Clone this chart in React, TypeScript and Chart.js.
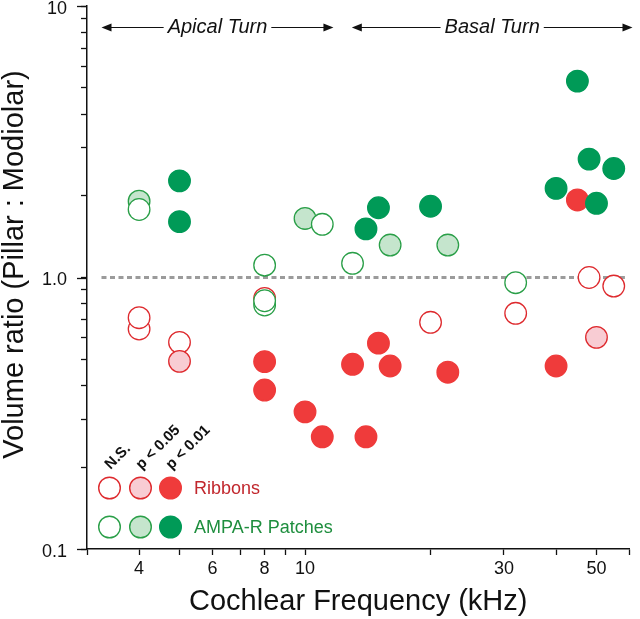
import React, { useEffect, useRef } from 'react';
import { Chart, registerables } from 'chart.js';

Chart.register(...registerables);

const FONT = "'Liberation Sans', Arial, Helvetica, sans-serif";

// ---- Data (Cochlear frequency kHz, volume ratio) ----
const ribbonsNsX = [4, 4, 5, 8, 20, 32, 48, 55];
const ribbonsNsY = [0.646, 0.711, 0.577, 0.838, 0.684, 0.738, 1.0, 0.93];
const ribbonsP05X = [5, 50];
const ribbonsP05Y = [0.491, 0.602];
const ribbonsP01X = [8, 8, 10, 11, 13, 14, 15, 16, 22, 40, 45];
const ribbonsP01Y = [0.49, 0.385, 0.32, 0.259, 0.479, 0.259, 0.573, 0.472, 0.448, 0.472, 1.93];

const ampaNsX = [4, 8, 8, 8, 11, 13, 32];
const ampaNsY = [1.78, 1.11, 0.792, 0.821, 1.57, 1.128, 0.957];
const ampaP05X = [4, 10, 16, 22];
const ampaP05Y = [1.91, 1.65, 1.317, 1.317];
const ampaP01X = [5, 5, 14, 15, 20, 40, 45, 48, 50, 55];
const ampaP01Y = [2.27, 1.606, 1.51, 1.807, 1.83, 2.13, 5.29, 2.73, 1.876, 2.52];

const refLineX = [3.25, 58.5];
const refLineY = [1, 1];

// ---- Axis ticks ----
const xTicks = [3, 4, 5, 6, 7, 8, 9, 10, 20, 30, 40, 50, 60];
const xTickLabelValues = [4, 6, 8, 10, 30, 50];
const xTickLabels = ['4', '6', '8', '10', '30', '50'];
const yTicks = [0.1, 0.2, 0.3, 0.4, 0.5, 0.6, 0.7, 0.8, 0.9, 1, 2, 3, 4, 5, 6, 7, 8, 9, 10];
const yTickLabelValues = [0.1, 1, 10];
const yTickLabels = ['0.1', '1.0', '10'];

const xTitle = 'Cochlear Frequency (kHz)';
const yTitle = 'Volume ratio (Pillar : Modiolar)';

// ---- Annotations ----
const turnLabels = ['Apical Turn', 'Basal Turn'];
const turnStart = [3.25, 12.95];
const turnEnd = [11.7, 61];
const turnArrowY = 8.4;

const sigLabels = ['N.S.', 'p < 0.05', 'p < 0.01'];
const groupLabels = ['Ribbons', 'AMPA-R Patches'];
const groupLabelColors = ['#C1272D', '#1E8E3E'];

// styles
const RED = '#EF3B3B';
const RED_EDGE = '#DE2A2E';
const PINK = '#F8CCD3';
const GREEN = '#009A57';
const LIGHT_GREEN = '#C5E5CD';
const GREEN_EDGE = '#2A9F48';

const legendStyles = [
  [
    { fill: '#FFFFFF', stroke: RED_EDGE },
    { fill: PINK, stroke: RED_EDGE },
    { fill: RED, stroke: RED },
  ],
  [
    { fill: '#FFFFFF', stroke: GREEN_EDGE },
    { fill: LIGHT_GREEN, stroke: GREEN_EDGE },
    { fill: GREEN, stroke: GREEN },
  ],
];

function pts(xs: number[], ys: number[]) {
  return xs.map((x, i) => ({ x, y: ys[i] }));
}

function labelFor(value: number, vals: number[], labels: string[]) {
  for (let i = 0; i < vals.length; i++) {
    if (Math.abs(value - vals[i]) / vals[i] < 1e-6) return labels[i];
  }
  return '';
}

const overlayPlugin = {
  id: 'overlay',
  afterDraw(chart: any) {
    const { ctx, chartArea, scales } = chart;
    const xs = scales.x;
    const ys = scales.y;
    ctx.save();

    // longer major ticks on y axis
    ctx.strokeStyle = '#111';
    ctx.lineWidth = 1.3;
    yTickLabelValues.forEach((v) => {
      const py = Math.round(ys.getPixelForValue(v)) + 0.5;
      ctx.beginPath();
      ctx.moveTo(chartArea.left - 10, py);
      ctx.lineTo(chartArea.left, py);
      ctx.stroke();
    });

    // y axis title
    ctx.save();
    ctx.font = `29px ${FONT}`;
    ctx.fillStyle = '#111';
    ctx.textAlign = 'center';
    ctx.textBaseline = 'middle';
    ctx.translate(15, (chartArea.top + chartArea.bottom) / 2 - 13);
    ctx.rotate(-Math.PI / 2);
    ctx.fillText(yTitle, 0, 0);
    ctx.restore();

    // Turn arrows
    const ay = Math.round(ys.getPixelForValue(turnArrowY)) + 0.5;
    ctx.font = `italic 20px ${FONT}`;
    ctx.textAlign = 'center';
    ctx.textBaseline = 'middle';
    ctx.fillStyle = '#111';
    ctx.strokeStyle = '#111';
    ctx.lineWidth = 1.2;
    turnLabels.forEach((label, i) => {
      const x0 = xs.getPixelForValue(turnStart[i]);
      const x1 = xs.getPixelForValue(turnEnd[i]);
      const mid = (x0 + x1) / 2;
      const w = ctx.measureText(label).width;
      ctx.fillText(label, mid, ay);
      const gap = 4;
      const head = 10;
      ctx.beginPath();
      ctx.moveTo(x0 + head - 1, ay);
      ctx.lineTo(mid - w / 2 - gap, ay);
      ctx.moveTo(mid + w / 2 + gap, ay);
      ctx.lineTo(x1 - head + 1, ay);
      ctx.stroke();
      ctx.beginPath();
      ctx.moveTo(x0, ay);
      ctx.lineTo(x0 + head, ay - 4);
      ctx.lineTo(x0 + head, ay + 4);
      ctx.closePath();
      ctx.fill();
      ctx.beginPath();
      ctx.moveTo(x1, ay);
      ctx.lineTo(x1 - head, ay - 4);
      ctx.lineTo(x1 - head, ay + 4);
      ctx.closePath();
      ctx.fill();
    });

    // Legend
    const colX = [22.5, 53.5, 83.5].map((d) => chartArea.left + d);
    const rowY = [61, 22].map((d) => chartArea.bottom - d);
    legendStyles.forEach((row, r) => {
      row.forEach((st, c) => {
        ctx.beginPath();
        ctx.arc(colX[c], rowY[r], 10.8, 0, Math.PI * 2);
        ctx.fillStyle = st.fill;
        ctx.fill();
        ctx.lineWidth = 1.4;
        ctx.strokeStyle = st.stroke;
        ctx.stroke();
      });
      ctx.font = `18px ${FONT}`;
      ctx.textAlign = 'left';
      ctx.textBaseline = 'middle';
      ctx.fillStyle = groupLabelColors[r];
      ctx.fillText(groupLabels[r], chartArea.left + 107, rowY[r] + 1);
    });
    ctx.font = `bold 15px ${FONT}`;
    ctx.fillStyle = '#111';
    ctx.textAlign = 'left';
    ctx.textBaseline = 'alphabetic';
    sigLabels.forEach((label, c) => {
      ctx.save();
      ctx.translate(colX[c] + 1, rowY[0] - 18);
      ctx.rotate(-Math.PI / 4);
      ctx.fillText(label, 0, 0);
      ctx.restore();
    });

    ctx.restore();
  },
};

export default function App() {
  const canvasRef = useRef<HTMLCanvasElement | null>(null);

  useEffect(() => {
    if (!canvasRef.current) return;
    Chart.defaults.font.family = FONT;
    const scatterCommon = {
      pointRadius: 10.8,
      pointHoverRadius: 10.8,
      pointBorderWidth: 1.3,
      borderWidth: 1.3,
    };
    const chart = new Chart(canvasRef.current, {
      type: 'scatter',
      data: {
        datasets: [
          {
            type: 'line',
            label: 'ref',
            data: pts(refLineX, refLineY),
            borderColor: '#9B9B9B',
            borderWidth: 3,
            borderDash: [5, 3.5],
            pointRadius: 0,
            showLine: true,
            fill: false,
            order: 100,
          } as any,
          { label: 'Ribbons N.S.', data: pts(ribbonsNsX, ribbonsNsY), backgroundColor: '#FFFFFF', borderColor: RED_EDGE, order: 7, ...scatterCommon },
          { label: 'Ribbons p<0.05', data: pts(ribbonsP05X, ribbonsP05Y), backgroundColor: PINK, borderColor: RED_EDGE, order: 6, ...scatterCommon },
          { label: 'AMPA-R p<0.05', data: pts(ampaP05X, ampaP05Y), backgroundColor: LIGHT_GREEN, borderColor: GREEN_EDGE, order: 5, ...scatterCommon },
          { label: 'AMPA-R N.S.', data: pts(ampaNsX, ampaNsY), backgroundColor: '#FFFFFF', borderColor: GREEN_EDGE, order: 4, ...scatterCommon },
          { label: 'Ribbons p<0.01', data: pts(ribbonsP01X, ribbonsP01Y), backgroundColor: RED, borderColor: RED, order: 3, ...scatterCommon },
          { label: 'AMPA-R p<0.01', data: pts(ampaP01X, ampaP01Y), backgroundColor: GREEN, borderColor: GREEN, order: 2, ...scatterCommon },
        ],
      },
      options: {
        responsive: false,
        animation: false,
        events: [],
        layout: { autoPadding: false, padding: { left: 0, right: 10.5, top: 6, bottom: 0 } },
        plugins: {
          legend: { display: false },
          tooltip: { enabled: false },
        },
        scales: {
          x: {
            type: 'logarithmic',
            min: 3,
            max: 60,
            position: 'bottom',
            afterBuildTicks: (s: any) => {
              s.ticks = xTicks.map((v) => ({ value: v }));
            },
            afterFit: (s: any) => {
              s.height = 70;
              s.paddingLeft = 0;
              s.paddingRight = 0;
            },
            ticks: {
              autoSkip: false,
              maxRotation: 0,
              minRotation: 0,
              color: '#111',
              padding: 3,
              font: { size: 18, family: FONT },
              callback: (v: any) => labelFor(Number(v), xTickLabelValues, xTickLabels),
            },
            grid: { drawOnChartArea: false, drawTicks: true, tickLength: 6, color: '#111', tickWidth: 1.3 },
            border: { display: true, color: '#111', width: 1.5 },
            title: {
              display: true,
              text: xTitle,
              color: '#111',
              font: { size: 29, family: FONT, lineHeight: 1.2 },
              padding: 0,
            },
          },
          y: {
            type: 'logarithmic',
            min: 0.1,
            max: 10,
            afterBuildTicks: (s: any) => {
              s.ticks = yTicks.map((v) => ({ value: v }));
            },
            afterFit: (s: any) => {
              s.width = 87;
              s.paddingTop = 0;
              s.paddingBottom = 0;
            },
            ticks: {
              autoSkip: false,
              color: '#111',
              padding: 14,
              labelOffset: 3,
              font: { size: 18, family: FONT },
              callback: (v: any) => labelFor(Number(v), yTickLabelValues, yTickLabels),
            },
            grid: { drawOnChartArea: false, drawTicks: true, tickLength: 6, color: '#111', tickWidth: 1.3 },
            border: { display: true, color: '#111', width: 1.5 },
            title: { display: false },
          },
        },
      } as any,
      plugins: [overlayPlugin],
    });
    return () => chart.destroy();
  }, []);

  return (
    <div style={{ position: 'absolute', left: 0, top: 0, width: 640, height: 619, background: '#fff' }}>
      <canvas ref={canvasRef} width={640} height={619} style={{ display: 'block' }} />
    </div>
  );
}
